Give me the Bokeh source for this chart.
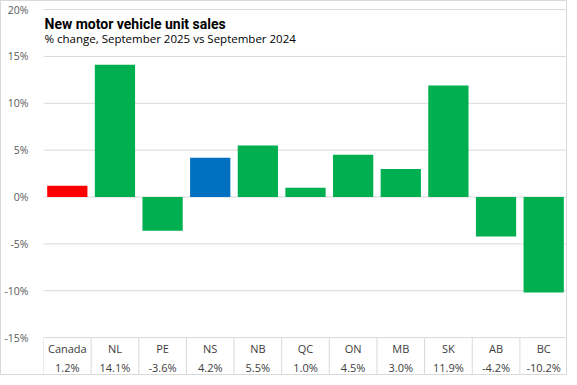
from bokeh.plotting import figure
from bokeh.models import FixedTicker, PrintfTickFormatter, ColumnDataSource, Range1d
from bokeh.core.properties import value
from bokeh.embed import file_html
from bokeh.resources import INLINE

title = "New motor vehicle unit sales"
subtitle = "% change, September  2025 vs September  2024"
regions = ["Canada", "NL", "PE", "NS", "NB", "QC", "ON", "MB", "SK", "AB", "BC"]
changes = [1.2, 14.1, -3.6, 4.2, 5.5, 1.0, 4.5, 3.0, 11.9, -4.2, -10.2]
colors = ["#FF0000", "#00B050", "#00B050", "#0070C0", "#00B050", "#00B050",
          "#00B050", "#00B050", "#00B050", "#00B050", "#00B050"]
y_ticks = [-15, -10, -5, 0, 5, 10, 15, 20]

Y_TOP, Y_BOT = 20.86, -19.15
FONT = "Open Sans"

p = figure(width=567, height=375, output_backend="svg", toolbar_location=None,
           x_range=Range1d(0, len(regions)), y_range=Range1d(Y_BOT, Y_TOP),
           x_axis_location=None, min_border_left=37, min_border_right=1,
           min_border_top=0, min_border_bottom=0)
p.styles = {"border": "1px solid #d9d9d9"}
p.outline_line_color = None
p.background_fill_color = "white"
p.border_fill_color = "white"

p.yaxis.ticker = FixedTicker(ticks=y_ticks)
p.yaxis.formatter = PrintfTickFormatter(format="%d%%")
p.yaxis.axis_line_color = None
p.yaxis.major_tick_line_color = None
p.yaxis.minor_tick_line_color = None
p.yaxis.major_label_text_font = FONT
p.yaxis.major_label_text_font_size = "10.5px"
p.yaxis.major_label_text_color = "#595959"
p.yaxis.major_label_standoff = 9
p.ygrid.grid_line_color = None
p.xgrid.grid_line_color = None

xs = [i + 0.5 for i in range(len(regions))]
n = len(regions)

# horizontal gridlines drawn at the tick values
p.segment(x0=[0] * len(y_ticks), y0=y_ticks, x1=[n] * len(y_ticks), y1=y_ticks,
          line_color="#d9d9d9", line_width=1)

src = ColumnDataSource(dict(x=xs, top=changes, color=colors, region=regions,
                            label=[f"{v:.1f}%" for v in changes]))
p.vbar(x="x", top="top", bottom=0, width=0.845, fill_color="color",
       line_color=None, source=src)

# data table below chart
p.segment(x0=list(range(n + 1)), y0=[y_ticks[0]] * (n + 1),
          x1=list(range(n + 1)), y1=[Y_BOT] * (n + 1),
          line_color="#d9d9d9", line_width=1)
p.text(x="x", y=-16.15, text="region", source=src, text_align="center",
       text_baseline="middle", text_font=value(FONT), text_font_size="11px",
       text_color="#404040")
p.text(x="x", y=-18.21, text="label", source=src, text_align="center",
       text_baseline="middle", text_font=value(FONT), text_font_size="11px",
       text_color="#404040")

p.text(x=[0], y=[18.5], text=[title], x_offset=1, text_baseline="alphabetic",
       text_font=value("Roboto"), text_font_style="bold", text_font_size="14px",
       text_color="#000000")
p.text(x=[0], y=[16.9], text=[subtitle], x_offset=1, text_baseline="alphabetic",
       text_font=value(FONT), text_font_size="11.5px", text_color="#000000")

open("out.html", "w").write(file_html(p, INLINE))
